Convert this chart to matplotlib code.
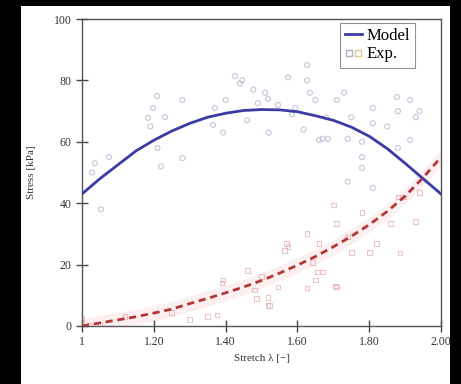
import numpy as np
import matplotlib
matplotlib.use('Agg')
import matplotlib.pyplot as plt
from matplotlib.lines import Line2D
from matplotlib.legend_handler import HandlerTuple
from matplotlib.patches import Rectangle

plt.rcParams['font.family'] = ['Liberation Serif', 'DejaVu Serif']

# model curves
lam = [1.0, 1.05, 1.1, 1.15, 1.2, 1.25, 1.3, 1.35, 1.4, 1.45, 1.5,
       1.55, 1.6, 1.65, 1.7, 1.75, 1.8, 1.85, 1.9, 1.95, 2.0]
model_up = [43, 48, 52.5, 57, 60.5, 63.5, 66, 68, 69.3, 70.2, 70.5,
            70.4, 69.8, 68.5, 67, 64.8, 61.8, 57.8, 53, 48, 43]
model_lo = [0, 1, 2, 3, 4.2, 5.5, 7.3, 9, 10.8, 12.7, 14.8,
            17.2, 19.8, 22.6, 25.8, 29.2, 33, 37.3, 42.3, 48.3, 55]

# experimental points, upper cloud
exp_up_x = [1.028, 1.036, 1.053, 1.075, 1.184, 1.19, 1.198, 1.209, 1.21, 1.22,
            1.231, 1.28, 1.28, 1.365, 1.37, 1.393, 1.40, 1.426, 1.44, 1.446,
            1.46, 1.477, 1.49, 1.51, 1.518, 1.52, 1.546, 1.574, 1.585, 1.594,
            1.617, 1.627, 1.627, 1.635, 1.65, 1.66, 1.67, 1.68, 1.685, 1.71,
            1.73, 1.74, 1.74, 1.75, 1.78, 1.78, 1.78, 1.81, 1.81, 1.81,
            1.85, 1.877, 1.88, 1.88, 1.914, 1.914, 1.93, 1.94]
exp_up_y = [50, 53, 38, 55, 67.8, 65, 71, 74.9, 58, 52,
            68, 73.6, 54.7, 65.5, 71, 63, 73.6, 81.4, 79, 80,
            67, 77, 72.6, 76, 74, 63, 72, 81, 69, 71,
            64, 85, 80, 76, 73.6, 60.6, 61, 68, 61, 73.6,
            76, 61, 47, 68, 60, 55, 51.5, 71, 66, 45,
            65, 74.6, 70, 58, 73.6, 60.6, 68, 70]

# experimental points, lower cloud
exp_lo_x = [1.0, 1.0, 1.02, 1.05, 1.12, 1.25, 1.3, 1.35, 1.376, 1.39, 1.393,
            1.46, 1.48, 1.487, 1.50, 1.518, 1.518, 1.523, 1.546, 1.565, 1.57,
            1.574, 1.627, 1.627, 1.643, 1.65, 1.657, 1.66, 1.67, 1.70, 1.705,
            1.71, 1.71, 1.74, 1.75, 1.78, 1.80, 1.82, 1.86, 1.88, 1.886,
            1.895, 1.93, 1.94]
exp_lo_y = [1, 2.6, 0.3, 0.5, 3, 4.5, 2, 3, 3.6, 14, 15,
            18, 11.7, 9, 16, 6.8, 9.4, 6.8, 12.7, 24.7, 27,
            26, 30, 12.4, 20.8, 15, 17.6, 27, 17.6, 39.4, 13,
            33.5, 12.7, 29, 24, 37, 24, 27, 33.5, 42, 23.8,
            42, 34, 43.6]

fig = plt.figure(figsize=(4.61, 3.84), dpi=100, facecolor='black')
fig.patches.append(Rectangle((21/461, 0), 429/461, 1 - 6/384, transform=fig.transFigure,
                             facecolor='white', edgecolor='none', zorder=-5))
ax = fig.add_axes([82/461, 1 - 326/384, 359/461, 307/384])
ax.set_zorder(2)
ax.patch.set_alpha(0)

ax.scatter(exp_up_x, exp_up_y, marker='o', s=13, facecolors='none',
           edgecolors='#a4a8c4', linewidths=0.8, alpha=0.65, zorder=2)
ax.scatter(exp_lo_x, exp_lo_y, marker='s', s=12, facecolors='none',
           edgecolors='#e3a6aa', linewidths=0.8, alpha=0.65, zorder=2)

lo = np.array(model_lo)
ax.fill_between(lam, lo - 2.5, lo + 2.5, color='#fadcdc', alpha=0.45, lw=0, zorder=1)
ax.plot(lam, model_up, color='#3a3ca4', lw=2, zorder=3)
ax.plot(lam, model_lo, color='#b3363a', lw=2, ls=(0, (2.6, 1.7)), zorder=3)

ax.set_xlim(1, 2)
ax.set_ylim(0, 100)
ax.set_xticks([1, 1.2, 1.4, 1.6, 1.8, 2.0])
ax.set_xticklabels(['1', '1.20', '1.40', '1.60', '1.80', '2.00'])
ax.set_yticks([0, 20, 40, 60, 80, 100])
ax.tick_params(direction='inout', length=9, width=1, colors='#444444',
               labelsize=8.5, labelcolor='#333333', pad=3)
for s in ax.spines.values():
    s.set_color('#555555')
    s.set_linewidth(1)

ax.set_xlabel('Stretch λ [−]', fontsize=8, color='#333333', labelpad=4)
ax.set_ylabel('Stress [kPa]', fontsize=8, color='#333333', labelpad=13)

h_model = Line2D([], [], color='#3a3ca4', lw=2)
h_a = Line2D([], [], ls='none', marker='s', ms=4.5, mfc='none', mec='#a9adc9')
h_b = Line2D([], [], ls='none', marker='s', ms=4.5, mfc='none', mec='#e6c890')
leg = ax.legend([h_model, (h_a, h_b)], ['Model', 'Exp.'], loc='upper right',
                bbox_to_anchor=(415/359 - 82/359, 1 - 4/307), fontsize=12,
                handler_map={tuple: HandlerTuple(ndivide=None, pad=0.1)},
                fancybox=False, handlelength=1.0, handletextpad=0.3,
                borderpad=0.3, labelspacing=0.15, borderaxespad=0)
leg.get_frame().set_edgecolor('#777777')
leg.get_frame().set_linewidth(0.8)

fig.savefig('out.png', dpi=100, facecolor=fig.get_facecolor())
